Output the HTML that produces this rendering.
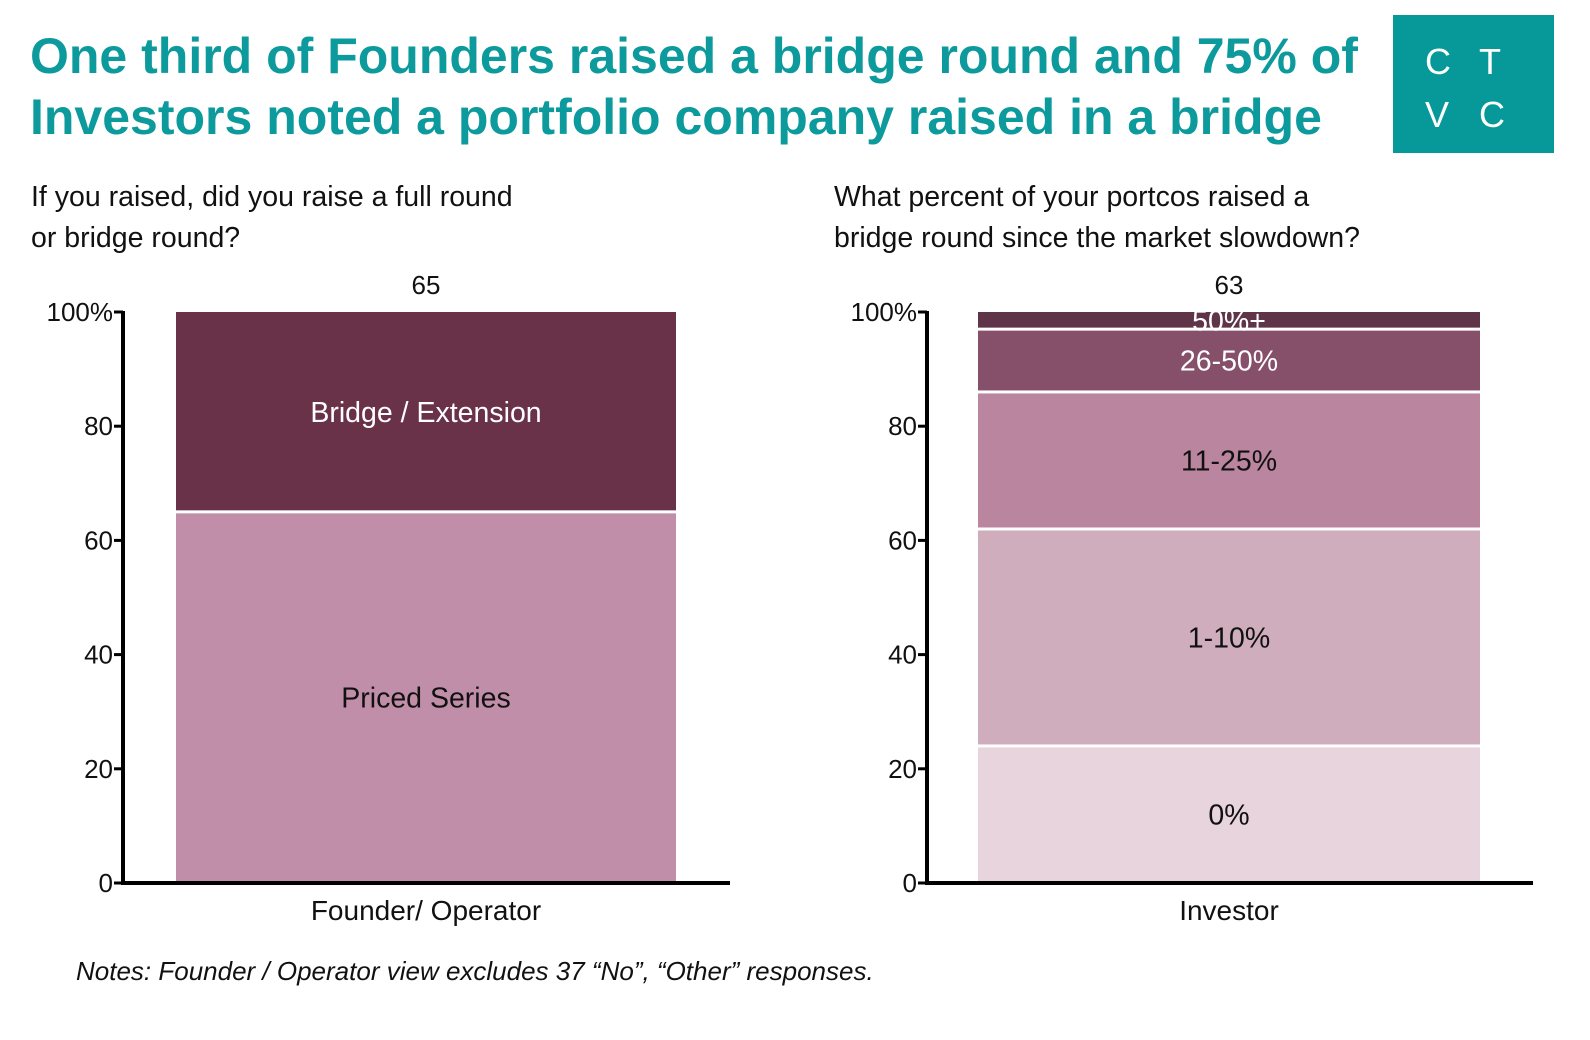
<!DOCTYPE html>
<html><head><meta charset="utf-8"><style>
body{margin:0;width:1590px;height:1040px;background:#fff;overflow:hidden;font-family:"Liberation Sans",sans-serif}
.t{position:absolute;left:30px;top:26px;font-weight:bold;font-size:50px;line-height:61px;color:#0c9a9c;white-space:nowrap}
.logo{position:absolute;left:1393px;top:15px;width:161px;height:138px;background:#07989a}
.logo span{position:absolute;color:#fff;font-size:36px;line-height:36px}
.sub{position:absolute;font-size:28.5px;line-height:41px;color:#111;white-space:nowrap}
.note{position:absolute;left:76px;top:956px;font-size:26px;font-style:italic;color:#111}
</style></head><body>
<div class="t">One third of Founders raised a bridge round and 75% of<br>Investors noted a portfolio company raised in a bridge</div>
<div class="logo"><span style="left:32px;top:29px">C</span><span style="left:86px;top:29px">T</span><span style="left:32px;top:82px">V</span><span style="left:86px;top:82px">C</span></div>
<div class="sub" style="left:31px;top:177px">If you raised, did you raise a full round<br>or bridge round?</div>
<div class="sub" style="left:834px;top:177px">What percent of your portcos raised a<br>bridge round since the market slowdown?</div>
<div class="note">Notes: Founder / Operator view excludes 37 “No”, “Other” responses.</div>
<svg width="1590" height="1040" style="position:absolute;left:0;top:0" id="svg" font-family="Liberation Sans, sans-serif"></svg>
<script>
const leftLabels=["Priced Series","Bridge / Extension"];
const leftValues=[65,35];
const leftColors=["#c08ea8","#6a3249"];
const leftTextColors=["#111","#fff"];
const rightLabels=["0%","1-10%","11-25%","26-50%","50%+"];
const rightValues=[24,38,24,11,3];
const rightColors=["#e8d4dd","#d0adbd","#ba859f","#864f6a","#5f3449"];
const rightTextColors=["#111","#111","#111","#fff","#fff"];
const ticks=[0,20,40,60,80,100];
const tickLabels=["0","20","40","60","80","100%"];
const counts=["65","63"];
const cats=["Founder/ Operator","Investor"];
const svg=document.getElementById('svg');
const NS='http://www.w3.org/2000/svg';
const y=v=>883-v*5.71;
function mk(t,a,txt){const e=document.createElementNS(NS,t);for(const k in a)e.setAttribute(k,a[k]);if(txt!==undefined)e.textContent=txt;svg.appendChild(e);return e;}
function chart(ax,bx,bw,axEnd,labels,values,colors,tcols,count,cat,key){
  ticks.forEach((t,i)=>{
    const l=mk('line',{x1:ax-9,x2:ax,y1:y(t),y2:y(t),stroke:'#000','stroke-width':3});
    
    
    const tx=mk('text',{x:ax-10,y:y(t)+9,'text-anchor':'end','font-size':26,fill:'#111'},tickLabels[i]);
    
    
  });
  let cum=0;
  values.forEach((v,i)=>{
    const top=y(cum+v),bot=y(cum);
    const r=mk('rect',{x:bx,y:top+(cum+v>=100?0:1.5),width:bw,height:bot-top-(cum+v>=100?1.5:3)+(cum===0?1.5:0),fill:colors[i]});
    
    
    const tx=mk('text',{x:bx+bw/2,y:(top+bot)/2+10,'text-anchor':'middle','font-size':28.5,fill:tcols[i]},labels[i]);
    
    
    cum+=v;
  });
  const a1=mk('line',{x1:ax,x2:ax,y1:y(100)-1,y2:885,stroke:'#000','stroke-width':4});
  
  
  const a2=mk('line',{x1:ax-2,x2:axEnd,y1:883,y2:883,stroke:'#000','stroke-width':4});
  
  
  const c=mk('text',{x:bx+bw/2,y:294,'text-anchor':'middle','font-size':26,fill:'#111'},count);
  
  
  const xl=mk('text',{x:bx+bw/2,y:920,'text-anchor':'middle','font-size':28,fill:'#111'},cat);
  
  
}
chart(123,176,500,730,leftLabels,leftValues,leftColors,leftTextColors,counts[0],cats[0],'left');
chart(927,978,502,1533,rightLabels,rightValues,rightColors,rightTextColors,counts[1],cats[1],'right');
</script>
</body></html>
